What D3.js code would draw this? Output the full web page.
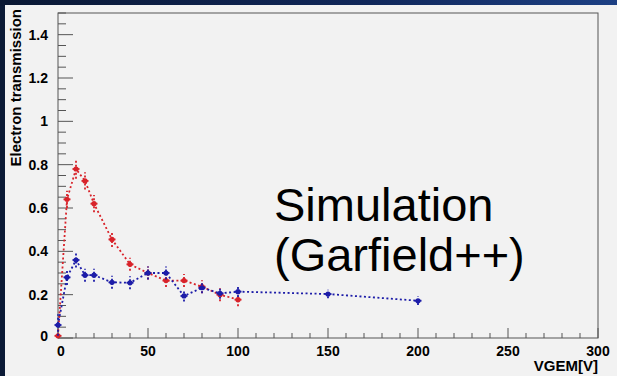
<!DOCTYPE html>
<html>
<head>
<meta charset="utf-8">
<script src="https://cdn.jsdelivr.net/npm/d3@7"></script>
<style>
html,body{margin:0;padding:0;background:#0b1a36;}
svg{display:block;}
</style>
</head>
<body>
<svg id="chart" width="617" height="376"></svg>
<script>
// ---- data ----
const redX   = [0, 5, 10, 15, 20, 30, 40, 50, 60, 70, 80, 90, 100];
const redY   = [0.01, 0.64, 0.78, 0.725, 0.62, 0.455, 0.34, 0.30, 0.265, 0.265, 0.237, 0.20, 0.177];
const redErr = [0.01, 0.04, 0.045, 0.04, 0.04, 0.035, 0.03, 0.03, 0.03, 0.03, 0.03, 0.03, 0.03];

const blueX   = [0, 5, 10, 15, 20, 30, 40, 50, 60, 70, 80, 90, 100, 150, 200];
const blueY   = [0.06, 0.28, 0.36, 0.29, 0.29, 0.257, 0.255, 0.30, 0.30, 0.194, 0.232, 0.206, 0.214, 0.203, 0.172];
const blueErr = [0.05, 0.035, 0.035, 0.03, 0.03, 0.03, 0.03, 0.03, 0.03, 0.025, 0.025, 0.025, 0.025, 0.02, 0.02];

const xMajorTicks = [0, 50, 100, 150, 200, 250, 300];
const yMajorTicks = [0, 0.2, 0.4, 0.6, 0.8, 1, 1.2, 1.4];
const xTitle = "VGEM[V]";
const yTitle = "Electron transmission";
const noteLines = ["Simulation", "(Garfield++)"];

// ---- layout ----
const svg = d3.select("#chart");
const W = 617, H = 376;
const FONT = "Liberation Sans, Arial, sans-serif";
const defs = svg.append("defs");
const grad = defs.append("linearGradient").attr("id","topgrad").attr("x1","0").attr("x2","1");
grad.append("stop").attr("offset","0").attr("stop-color","#0a1833");
grad.append("stop").attr("offset","0.6").attr("stop-color","#10275a");
grad.append("stop").attr("offset","1").attr("stop-color","#1d4084");

svg.append("rect").attr("width",W).attr("height",H).attr("fill","#0b1a36");
svg.append("rect").attr("width",W).attr("height",6).attr("fill","url(#topgrad)");
svg.append("rect").attr("x",5).attr("y",5).attr("width",W-5).attr("height",H-5).attr("fill","#f2f2f2");

const L = 58, R = 598, T = 13, B = 338;
const x = d3.scaleLinear().domain([0,300]).range([L,R]);
const y = d3.scaleLinear().domain([0,1.5]).range([B,T]);

const frameColor = "#555";
svg.append("rect").attr("x",L).attr("y",T).attr("width",R-L).attr("height",B-T)
  .attr("fill","none").attr("stroke",frameColor).attr("stroke-width",1);

// x ticks (inside, pointing up)
const xMinor = d3.range(0,301,10);
const gx = svg.append("g");
gx.selectAll("line").data(xMinor).join("line")
  .attr("x1",d=>x(d)).attr("x2",d=>x(d))
  .attr("y1",B).attr("y2",d=> B - (d%50===0 ? 10 : 5))
  .attr("stroke",frameColor).attr("stroke-width",1);
gx.selectAll("text").data(xMajorTicks).join("text")
  .attr("x",d=>x(d)+ (d===0?3:0)).attr("y",B+18)
  .attr("text-anchor","middle")
  .attr("font-family",FONT)
  .attr("font-weight","bold").attr("font-size",14).attr("fill","#000")
  .text(d=>d);

// y ticks (inside, pointing right)
const yMinor = d3.range(0,31).map(i=>i*0.05);
const gy = svg.append("g");
gy.selectAll("line").data(yMinor).join("line")
  .attr("x1",L).attr("x2",(d,i)=> L + (i%4===0 ? 15 : 8))
  .attr("y1",d=>y(d)).attr("y2",d=>y(d))
  .attr("stroke",frameColor).attr("stroke-width",1);
gy.selectAll("text").data(yMajorTicks).join("text")
  .attr("x",L-10).attr("y",d=>y(d)+ (d===0 ? 3 : 5))
  .attr("text-anchor","end")
  .attr("font-family",FONT)
  .attr("font-weight","bold").attr("font-size",14).attr("fill","#000")
  .text(d=>d);

// axis titles
svg.append("text").attr("x",R).attr("y",371).attr("text-anchor","end")
  .attr("font-family",FONT)
  .attr("font-weight","bold").attr("font-size",15).attr("fill","#000").text(xTitle);
svg.append("text").attr("transform",`translate(21,${T-4}) rotate(-90)`)
  .attr("text-anchor","end")
  .attr("font-family",FONT)
  .attr("font-weight","bold").attr("font-size",15).attr("fill","#000").text(yTitle);

// series
function drawSeries(xs, ys, es, color){
  const data = xs.map((d,i)=>({x:d,y:ys[i],e:es[i]}));
  const g = svg.append("g");
  const line = d3.line().x(d=>x(d.x)).y(d=>y(d.y));
  g.append("path").datum(data).attr("d",line)
    .attr("fill","none").attr("stroke",color).attr("stroke-width",1.8)
    .attr("stroke-dasharray","2,2.5");
  g.selectAll("line.err").data(data).join("line").attr("class","err")
    .attr("x1",d=>x(d.x)).attr("x2",d=>x(d.x))
    .attr("y1",d=>y(d.y-d.e)).attr("y2",d=>y(d.y+d.e))
    .attr("stroke",color).attr("stroke-width",1.8).attr("stroke-dasharray","2,2");
  g.selectAll("line.herr").data(data).join("line").attr("class","herr")
    .attr("x1",d=>x(d.x)-3.5).attr("x2",d=>x(d.x)+3.5)
    .attr("y1",d=>y(d.y)).attr("y2",d=>y(d.y))
    .attr("stroke",color).attr("stroke-width",1.8);
  g.selectAll("circle").data(data).join("circle")
    .attr("cx",d=>x(d.x)).attr("cy",d=>y(d.y)).attr("r",2.6)
    .attr("fill",color);
}
drawSeries(redX, redY, redErr, "#d8232a");
drawSeries(blueX, blueY, blueErr, "#1c1ca8");

// annotation
const note = svg.append("text")
  .attr("font-family",FONT)
  .attr("font-size",47).attr("fill","#000");
note.selectAll("tspan").data(noteLines).join("tspan")
  .attr("x",274).attr("y",(d,i)=>221 + i*50).text(d=>d);
</script>
</body>
</html>
